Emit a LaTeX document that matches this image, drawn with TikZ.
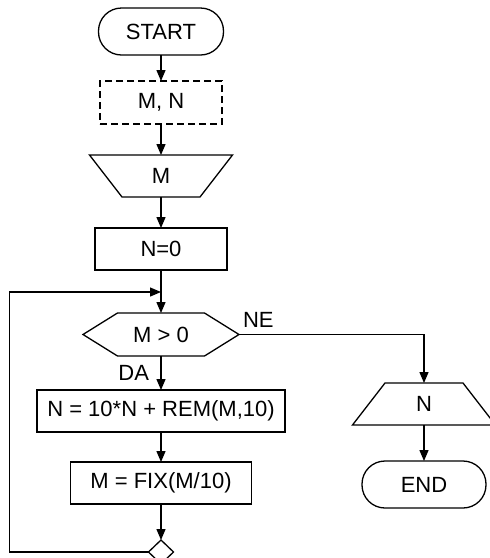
\documentclass[tikz,border=0pt]{standalone}
\usepackage{fontspec}
\setmainfont{Liberation Sans}
\usepackage{tikz}
\usetikzlibrary{positioning}
\usetikzlibrary{shapes.geometric, arrows.meta}

\begin{document}
\begin{tikzpicture}[x=1pt, y=-1pt, line width=1.3pt,
    >={Triangle[length=11pt,width=9pt]},
    every node/.style={font=\fontsize{22pt}{26pt}\selectfont,
      inner sep=0pt, outer sep=0pt},
    terminal/.style={rectangle, rounded corners=23pt, draw,
      minimum width=125pt, minimum height=47pt},
    databox/.style={rectangle, draw, dash pattern=on 7pt off 4pt,
      minimum width=122pt, minimum height=43pt},
    iobox/.style={rectangle, minimum width=78pt, minimum height=42pt},
    procbox/.style={rectangle, draw, minimum height=42pt},
    testbox/.style={rectangle, minimum width=156pt, minimum height=43pt},
    joinnode/.style={diamond, draw, minimum width=25pt, minimum height=24pt},
  ]
  \useasboundingbox (0,0) rectangle (490,558);
  % Nodes
  \node[terminal] (start) at (161,31.5) {START};
  \node[databox] (args) [below=26pt of start] {M, N};
  \node[iobox] (readm) [below=31pt of args] {M};
  \node[procbox, minimum width=132pt] (init) [below=31pt of readm] {N=0};
  \node[testbox] (cond) [below=43pt of init] {M > 0};
  \node[procbox, minimum width=248pt] (update) [below=34pt of cond]
    {N = 10*N + REM(M,10)};
  \node[procbox, minimum width=181pt] (shift) [below=30pt of update]
    {M = FIX(M/10)};
  \node[joinnode] (join) [below=36pt of shift] {};
  \node[iobox] (writen) at (424,404) {N};
  \node[terminal, minimum width=124pt] (stop) [below=36pt of writen] {END};
  \path (init.south) ++(0,22) coordinate (merge);
  % Borders of the input, output and test shapes
  \draw ([xshift=-32.5pt]readm.north west) -- ([xshift=32.5pt]readm.north east)
    -- (readm.south east) -- (readm.south west) -- cycle;
  \draw (writen.north west) -- (writen.north east)
    -- ([xshift=32.5pt]writen.south east)
    -- ([xshift=-32.5pt]writen.south west) -- cycle;
  \draw (cond.west) -- ([xshift=34.5pt]cond.north west)
    -- ([xshift=-34.5pt]cond.north east) -- (cond.east)
    -- ([xshift=-34.5pt]cond.south east)
    -- ([xshift=34.5pt]cond.south west) -- cycle;
  % Lines
  \draw[->] (start) -- (args);
  \draw[->] (args) -- (readm);
  \draw[->] (readm) -- (init);
  \draw[->] (init) -- (cond);
  \draw[->] (cond) -- node[left=12pt] {DA} (update);
  \draw[->] (update) -- (shift);
  \draw[->] (shift) -- (join);
  \draw[->] (cond.east) -| node[pos=0, above right=7pt and 4pt] {NE}
    (writen.north);
  \draw[->] (writen) -- (stop);
  \draw[->] (join.west) -- ++(-139,0) |- (merge);
\end{tikzpicture}
\end{document}
